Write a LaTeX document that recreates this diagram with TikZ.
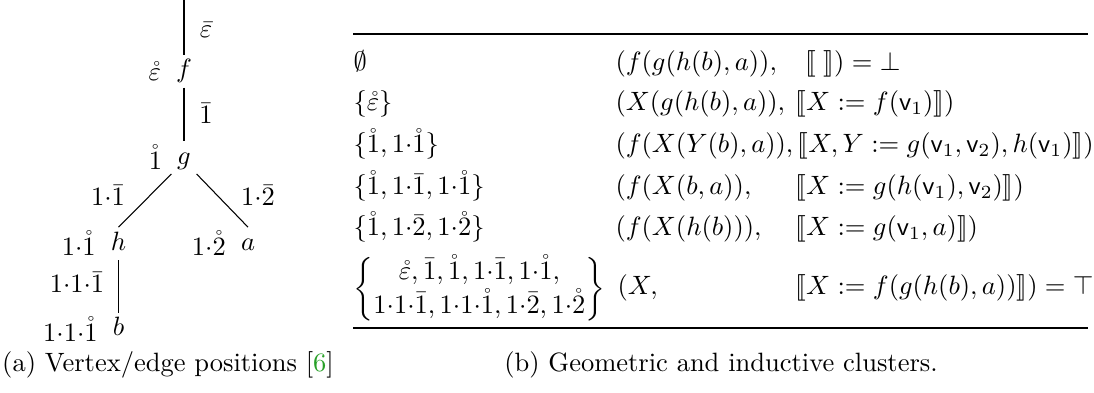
\documentclass[tikz,border=0pt]{standalone}
\usepackage{amsmath,amssymb,stmaryrd}
\usepackage{xcolor}
\definecolor{citegreen}{RGB}{40,160,40}
\newcommand{\rb}{\mathring{1}}
\newcommand{\bb}{\bar{1}}
\newcommand{\dt}{{\cdot}}
\newcommand{\vv}[1]{\mathsf{v}_{#1}}
\begin{document}
\begin{tikzpicture}[x=0.3774pt,y=-0.3774pt,
  vtx/.style={anchor=mid,inner xsep=2pt,inner ysep=1.5pt,text height=7pt,text depth=2pt},
  elab/.style={anchor=mid,inner sep=0pt},
  cell/.style={anchor=mid west,inner sep=0pt},
  treeline/.style={line width=0.4pt},
  rulestyle/.style={line width=0.8pt},
  captext/.style={anchor=mid,inner sep=0pt}]
\useasboundingbox (0,0) rectangle (1094,393);
% ---- tree ----
\coordinate (top) at (184,0);
\node[vtx,label={left:$\mathring{\varepsilon}$}] (f) at (184,72) {$f$};
\node[vtx,label={left:$\rb$}] (g) at (184,158.5) {$g$};
\node[vtx,label={left:$1\dt\rb$}] (h) at (118.5,244.5) {$h$};
\node[vtx,label={left:$1\dt\mathring{2}$}] (a) at (248,244.5) {$a$};
\node[vtx,label={left:$1\dt1\dt\rb$}] (b) at (118.5,330) {$b$};
\draw[treeline] (top) -- (f.north);
\draw[treeline] (f.south) -- (g.north);
\draw[treeline] (g.south west) -- (h.north);
\draw[treeline] (g.south east) -- (a.north);
\draw[treeline] (h.south) -- (b.north);
\node[elab] (l0) at (206,32) {$\bar{\varepsilon}$};
\node[elab] (l1) at (206,118) {$\bb$};
\node[elab] (l11) at (108,200) {$1\dt\bb$};
\node[elab] (l12) at (258,200) {$1\dt\bar{2}$};
\node[elab] (l111) at (77,287) {$1\dt1\dt\bb$};
\node[captext] (capa) at (168,366) {(a) Vertex/edge positions [\textcolor{citegreen}{6}]};
% ---- table ----
\draw[rulestyle] (353,34) -- (1088,34);
\draw[rulestyle] (353,328) -- (1088,328);
\node[cell] (r1a) at (353,65) {$\emptyset$};
\node[cell] (r1b) at (615,65) {$(f(g(h(b),a)),$};
\node[cell] (r1c) at (805,65) {$\llbracket\;\rrbracket) = \bot$};
\node[cell] (r2a) at (353,105) {$\{\mathring{\varepsilon}\}$};
\node[cell] (r2b) at (615,105) {$(X(g(h(b),a)),$};
\node[cell] (r2c) at (795,105) {$\llbracket X := f(\vv1)\rrbracket)$};
\node[cell] (r3a) at (353,147) {$\{\rb, 1\dt\rb\}$};
\node[cell] (r3b) at (615,147) {$(f(X(Y(b),a)),\llbracket X,Y := g(\vv1,\vv2),h(\vv1)\rrbracket)$};
\node[cell] (r4a) at (353,189) {$\{\rb, 1\dt\bb, 1\dt\rb\}$};
\node[cell] (r4b) at (615,189) {$(f(X(b,a)),$};
\node[cell] (r4c) at (795,189) {$\llbracket X := g(h(\vv1),\vv2)\rrbracket)$};
\node[cell] (r5a) at (353,230) {$\{\rb, 1\dt\bar{2}, 1\dt\mathring{2}\}$};
\node[cell] (r5b) at (615,230) {$(f(X(h(b))),$};
\node[cell] (r5c) at (795,230) {$\llbracket X := g(\vv1,a)\rrbracket)$};
\node[cell,anchor=west] (r6a) at (353,289) {$\left\{\begin{array}{@{}c@{}}\mathring{\varepsilon},\bb,\rb,1\dt\bb,1\dt\rb,\\ 1\dt1\dt\bb,1\dt1\dt\rb,1\dt\bar{2},1\dt\mathring{2}\end{array}\right\}$};
\node[cell] (r6b) at (617,289) {$(X,$};
\node[cell] (r6c) at (795,289) {$\llbracket X := f(g(h(b),a))\rrbracket) = \top$};
\node[captext] (capb) at (721,366) {(b) Geometric and inductive clusters.};
\end{tikzpicture}
\end{document}
